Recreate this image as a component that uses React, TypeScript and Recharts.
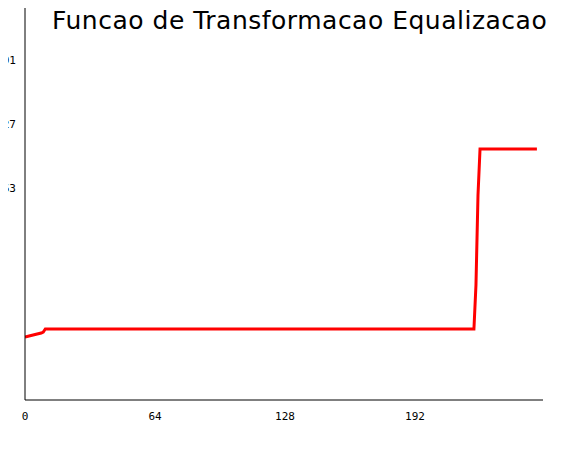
import { LineChart, Line, XAxis, YAxis } from "recharts"

const xs = [0, 2, 4, 6, 8, 9, 10, 50, 100, 150, 200, 221, 222, 223, 224, 235, 252]
const ys = [-82, -81, -80, -79, -78, -77, -74, -74, -74, -74, -74, -74, -30, 60, 106, 106, 106]
const xTicks = [0, 64, 128, 192]
const yTicks = [63, 127, 191, 255]

const data = xs.map((x, i) => ({ x, y: ys[i] }))

export default function App() {
  return (
    <div style={{ margin: -8, width: 562, height: 450, background: "#fff", position: "relative" }}>
      <div
        style={{
          position: "absolute",
          left: 52,
          top: 6,
          fontFamily: "DejaVu Sans",
          fontSize: 25,
          letterSpacing: 0.5,
        }}
      >
        Funcao de Transformacao Equalizacao
      </div>
      <LineChart width={562} height={450} data={data} margin={{ top: 0, right: 19, bottom: 20, left: 0 }}>
        <XAxis
          dataKey="x"
          type="number"
          domain={[0, 255]}
          ticks={xTicks}
          height={30}
          tickLine={false}
          axisLine={{ stroke: "#000" }}
          tick={{ fill: "#000", fontSize: 11, fontFamily: "DejaVu Sans Mono" }}
          tickMargin={6}
          allowDataOverflow
        />
        <YAxis
          type="number"
          domain={[-145, 255]}
          ticks={yTicks}
          width={25}
          tickLine={false}
          axisLine={{ stroke: "#000" }}
          tick={{ fill: "#000", fontSize: 11, fontFamily: "DejaVu Sans Mono", dy: -4 }}
          tickMargin={3}
          allowDataOverflow
        />
        <Line dataKey="y" stroke="#ff0000" strokeWidth={3} dot={false} isAnimationActive={false} type="linear" />
      </LineChart>
    </div>
  )
}
